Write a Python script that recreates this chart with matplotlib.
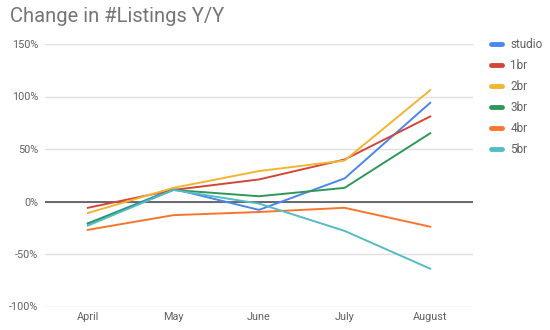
import matplotlib
matplotlib.use("Agg")
import matplotlib.pyplot as plt
from matplotlib.lines import Line2D
from matplotlib.ticker import FuncFormatter

plt.rcParams['font.family'] = ['Roboto', 'DejaVu Sans']

months = ["April", "May", "June", "July", "August"]
series_names = ["studio", "1br", "2br", "3br", "4br", "5br"]
studio = [-21, 12, -8, 22, 94]
br1 = [-6, 11, 21, 40, 81]
br2 = [-11, 13, 29, 39, 106]
br3 = [-21, 11, 5, 13, 65]
br4 = [-27, -13, -10, -6, -24]
br5 = [-23, 11, -2, -28, -64]
y_ticks = [-100, -50, 0, 50, 100, 150]

colors = ["#4a86ee", "#d2463a", "#f2b533", "#2f9858", "#f8752e", "#54bcc4"]
values = [studio, br1, br2, br3, br4, br5]

fig = plt.figure(figsize=(5.5, 3.3), dpi=100)
ax = fig.add_axes([45 / 550, 1 - 306.5 / 330, 428 / 550, (306.5 - 44) / 330])

x = list(range(len(months)))
for name, vals, c in zip(series_names, values, colors):
    ax.plot(x, vals, color=c, lw=1.4, label=name, zorder=3)

ax.axhline(0, color="#444444", lw=1.1, zorder=2)
ax.set_xlim(-0.5, len(months) - 0.5)
ax.set_ylim(y_ticks[0], y_ticks[-1])
ax.set_yticks(y_ticks)
ax.yaxis.set_major_formatter(FuncFormatter(lambda v, p: f"{int(v)}%"))
ax.set_xticks(x)
ax.set_xticklabels(months)
ax.grid(axis="y", color="#e0e0e0", lw=1, zorder=1)
for s in ax.spines.values():
    s.set_visible(False)
ax.tick_params(axis="both", length=0, labelsize=7.8, labelcolor="#616161")
ax.tick_params(axis="y", pad=5)
ax.tick_params(axis="x", pad=4)

fig.text(10 / 550, 1 - 17 / 330, "Change in #Listings Y/Y", fontsize=14.5,
         color="#757575", va="center", ha="left")

handles = [Line2D([0], [0], color=c, lw=3.5, solid_capstyle="round") for c in colors]
leg = fig.legend(handles, series_names, loc="upper left",
                 bbox_to_anchor=(491 / 550, 1 - 38 / 330), frameon=False,
                 fontsize=8.5, handlelength=0.9, handletextpad=0.75,
                 labelspacing=0.685, borderaxespad=0, borderpad=0)
for t in leg.get_texts():
    t.set_color("#616161")

fig.savefig("out.png", dpi=100)
